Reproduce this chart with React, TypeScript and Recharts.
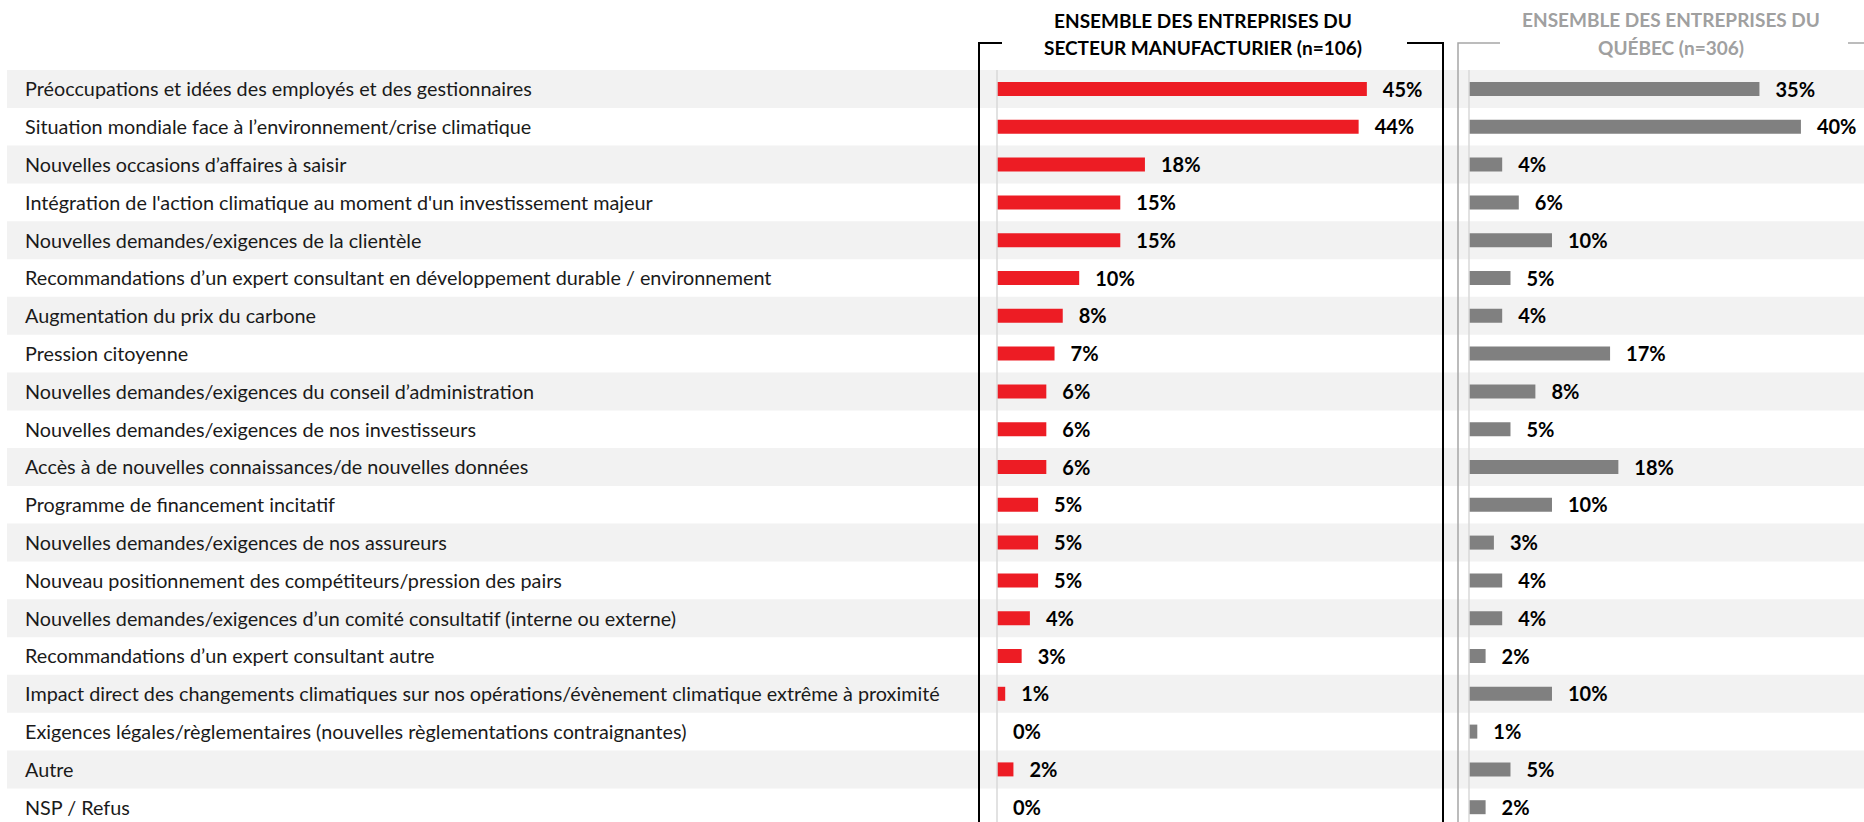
import React from 'react';
import { BarChart, Bar, XAxis, YAxis, LabelList } from 'recharts';

const categories = [
  'Préoccupations et idées des employés et des gestionnaires',
  'Situation mondiale face à l’environnement/crise climatique',
  'Nouvelles occasions d’affaires à saisir',
  "Intégration de l'action climatique au moment d'un investissement majeur",
  'Nouvelles demandes/exigences de la clientèle',
  'Recommandations d’un expert consultant en développement durable / environnement',
  'Augmentation du prix du carbone',
  'Pression citoyenne',
  'Nouvelles demandes/exigences du conseil d’administration',
  'Nouvelles demandes/exigences de nos investisseurs',
  'Accès à de nouvelles connaissances/de nouvelles données',
  'Programme de financement incitatif',
  'Nouvelles demandes/exigences de nos assureurs',
  'Nouveau positionnement des compétiteurs/pression des pairs',
  'Nouvelles demandes/exigences d’un comité consultatif (interne ou externe)',
  'Recommandations d’un expert consultant autre',
  'Impact direct des changements climatiques sur nos opérations/évènement climatique extrême à proximité',
  'Exigences légales/règlementaires (nouvelles règlementations contraignantes)',
  'Autre',
  'NSP / Refus',
];
const manufacturier = [45, 44, 18, 15, 15, 10, 8, 7, 6, 6, 6, 5, 5, 5, 4, 3, 1, 0, 2, 0];
const quebec = [35, 40, 4, 6, 10, 5, 4, 17, 8, 5, 18, 10, 3, 4, 4, 2, 10, 1, 5, 2];
const stripes = categories.map((_, i) => (i % 2 === 0 ? 1 : 0));
const headerManuf = ['ENSEMBLE DES ENTREPRISES DU', 'SECTEUR MANUFACTURIER (n=106)'];
const headerQc = ['ENSEMBLE DES ENTREPRISES DU', 'QUÉBEC (n=306)'];

const data = categories.map((name, i) => ({
  name,
  stripe: stripes[i],
  manuf: manufacturier[i],
  qc: quebec[i],
}));

const W = 1864;
const H = 826;
const TOP = 70;
const FONT = 'Lato, "Open Sans", sans-serif';

const CatTick = (props: any) => {
  const { y, payload } = props;
  return (
    <text x={25} y={y} dy={7.5} fontFamily={FONT} fontSize={19.8} fill="#1a1a1a" textAnchor="start">
      {payload.value}
    </text>
  );
};

const PctLabel = (props: any) => {
  const { x, y, width, height, value } = props;
  return (
    <text
      x={Number(x) + Number(width) + 16}
      y={Number(y) + Number(height) / 2}
      dy={7.5}
      fontFamily={FONT}
      fontWeight={700}
      fontSize={20}
      fill="#000"
      textAnchor="start"
    >
      {`${value}%`}
    </text>
  );
};

const abs: React.CSSProperties = { position: 'absolute', left: 0, top: 0 };

export default function App() {
  return (
    <div style={{ position: 'absolute', left: 0, top: 0, width: W, height: 822, overflow: 'hidden', background: '#fff' }}>
      <div style={abs}>
        <BarChart width={W} height={H} data={data} layout="vertical" margin={{ top: TOP, right: 0, bottom: 0, left: 0 }} barCategoryGap={0}>
          <XAxis type="number" domain={[0, 1]} hide allowDataOverflow />
          <YAxis type="category" dataKey="name" width={7} axisLine={false} tickLine={false} tick={<CatTick />} interval={0} />
          <Bar dataKey="stripe" fill="#f2f2f2" isAnimationActive={false} />
        </BarChart>
      </div>
      <div style={abs}>
        <BarChart width={W} height={H} data={data} layout="vertical" margin={{ top: TOP, right: 424, bottom: 0, left: 987 }}>
          <XAxis type="number" domain={[0, 53.9]} hide allowDataOverflow />
          <YAxis type="category" dataKey="name" width={10} tick={false} tickLine={false} axisLine={{ stroke: '#d9d9d9', strokeWidth: 1.5 }} />
          <Bar dataKey="manuf" fill="#ED1C24" barSize={14} minPointSize={0.01} isAnimationActive={false}>
            <LabelList dataKey="manuf" content={<PctLabel />} />
          </Bar>
        </BarChart>
      </div>
      <div style={abs}>
        <BarChart width={W} height={H} data={data} layout="vertical" margin={{ top: TOP, right: 0, bottom: 0, left: 1459 }}>
          <XAxis type="number" domain={[0, 47.6]} hide allowDataOverflow />
          <YAxis type="category" dataKey="name" width={10} tick={false} tickLine={false} axisLine={{ stroke: '#d9d9d9', strokeWidth: 1.5 }} />
          <Bar dataKey="qc" fill="#808080" barSize={14} minPointSize={0.01} isAnimationActive={false}>
            <LabelList dataKey="qc" content={<PctLabel />} />
          </Bar>
        </BarChart>
      </div>
      <svg style={abs} width={W} height={822}>
        <g stroke="#000" strokeWidth={2} fill="none">
          <polyline points="1002,43 979,43 979,822" />
          <polyline points="1407,43 1443,43 1443,822" />
        </g>
        <g stroke="#a6a6a6" strokeWidth={1.5} fill="none">
          <polyline points="1500,43 1458,43 1458,822" />
          <line x1={1848} y1={43} x2={1864} y2={43} />
        </g>
        <g fontFamily={FONT} fontWeight={700} fontSize={19} textAnchor="middle">
          <text x={1203} y={28} fill="#000">{headerManuf[0]}</text>
          <text x={1203} y={55} fill="#000">{headerManuf[1]}</text>
          <text x={1671} y={27} fill="#a0a0a0">{headerQc[0]}</text>
          <text x={1671} y={55} fill="#a0a0a0">{headerQc[1]}</text>
        </g>
      </svg>
    </div>
  );
}
